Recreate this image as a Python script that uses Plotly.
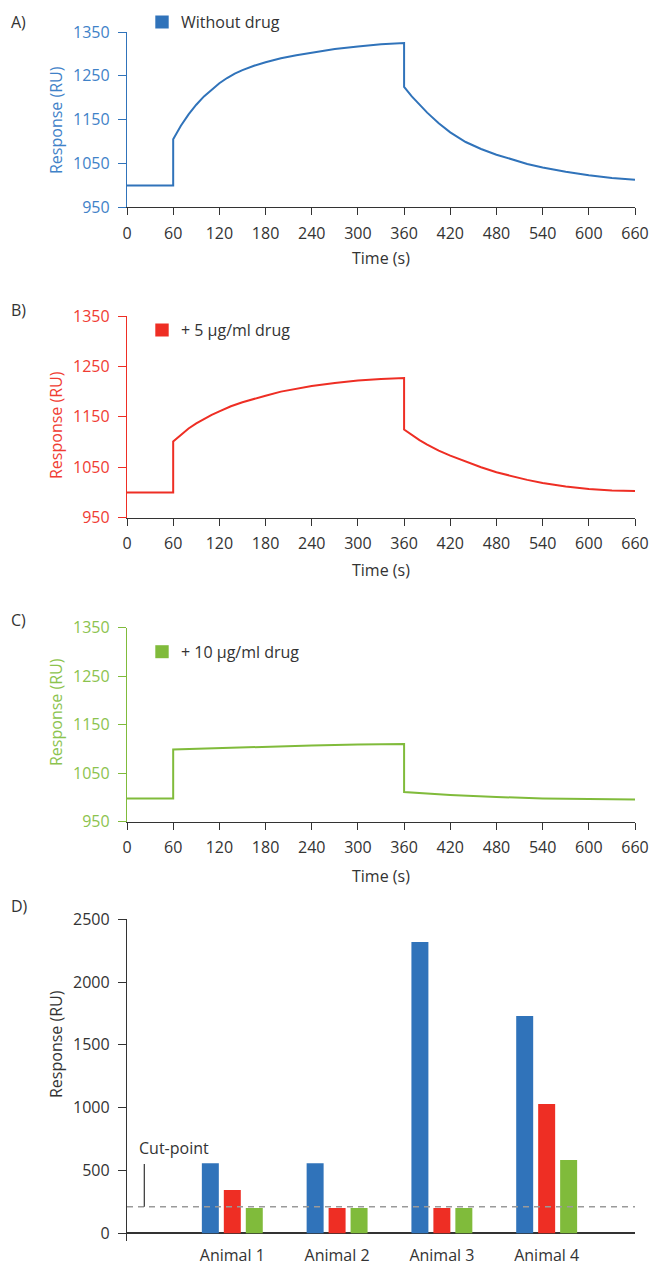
import plotly.graph_objects as go

W, H = 654, 1266

# ---------------- data ----------------
time_a = [0, 60, 60, 70, 80, 90, 100, 110, 120, 130, 140, 150, 165, 180, 200, 220, 240, 270, 300, 330, 360,
          360, 370, 380, 390, 405, 420, 440, 460, 480, 500, 520, 540, 570, 600, 630, 660]
resp_a = [1000, 1000, 1105, 1136, 1162, 1184, 1203, 1219, 1233, 1245, 1255, 1263, 1273, 1281, 1290, 1297, 1303, 1311, 1317, 1322, 1325,
          1225, 1203, 1184, 1166, 1142, 1121, 1099, 1083, 1070, 1059, 1049, 1041, 1031, 1023, 1017, 1013]

time_b = [0, 60, 60, 70, 80, 90, 100, 110, 120, 135, 150, 165, 180, 200, 220, 240, 270, 300, 330, 360,
          360, 370, 380, 390, 405, 420, 440, 460, 480, 500, 520, 540, 570, 600, 630, 660]
resp_b = [1000, 1000, 1101, 1115, 1127, 1137, 1146, 1154, 1161, 1171, 1179, 1186, 1192, 1200, 1206, 1211, 1217, 1222, 1225, 1227,
          1125, 1114, 1104, 1095, 1083, 1073, 1061, 1050, 1040, 1032, 1025, 1019, 1012, 1007, 1004, 1003]

time_c = [0, 60, 60, 120, 180, 240, 300, 360, 360, 390, 420, 480, 540, 600, 660]
resp_c = [998, 998, 1099, 1102, 1104, 1107, 1109, 1110, 1011, 1008, 1005, 1001, 998, 997, 996]

time_ticks = [0, 60, 120, 180, 240, 300, 360, 420, 480, 540, 600, 660]
resp_ticks = [950, 1050, 1150, 1250, 1350]

animals = ["Animal 1", "Animal 2", "Animal 3", "Animal 4"]
bar_without = [557, 557, 2319, 1730]
bar_5 = [345, 201, 201, 1030]
bar_10 = [201, 201, 201, 584]
bar_ticks = [0, 500, 1000, 1500, 2000, 2500]
cut_point = 212

series_names = ["Without drug", "+ 5 µg/ml drug", "+ 10 µg/ml drug"]

# ---------------- style ----------------
BLUE, RED, GREEN = "#3073BA", "#EE2E24", "#80BB3B"
BLUE_T, RED_T, GREEN_T = "#3F82C8", "#F03C33", "#8CC34E"
DARK = "#333333"
FONT = "Open Sans"


def px_x(p):
    return p / W


def px_y(p):
    return 1 - p / H


fig = go.Figure()

line_data = [(time_a, resp_a, BLUE, "x", "y"),
             (time_b, resp_b, RED, "x2", "y2"),
             (time_c, resp_c, GREEN, "x3", "y3")]
for (t, r, c, xa, ya), nm in zip(line_data, series_names):
    fig.add_trace(go.Scatter(x=t, y=r, mode="lines", line=dict(color=c, width=2),
                             name=nm, xaxis=xa, yaxis=ya, showlegend=False))

for vals, c, nm in zip([bar_without, bar_5, bar_10], [BLUE, RED, GREEN], series_names):
    fig.add_trace(go.Bar(x=animals, y=vals, marker=dict(color=c, line=dict(width=0)),
                         name=nm, xaxis="x4", yaxis="y4", showlegend=False))

xdom = [px_x(127), px_x(635)]
panels = [  # (top px, bottom px, color, tick color)
    (32, 207.3, BLUE, BLUE_T),
    (316, 517.7, RED, RED_T),
    (627.7, 821.7, GREEN, GREEN_T),
]

layout = dict(
    width=W, height=H, margin=dict(l=0, r=0, t=0, b=0, autoexpand=False),
    paper_bgcolor="white", plot_bgcolor="white",
    font=dict(family=FONT, size=16, color=DARK),
    barmode="group", bargap=0.371, bargroupgap=0.227,
    showlegend=False,
)

for i, (top, bot, col, tcol) in enumerate(panels):
    sfx = "" if i == 0 else str(i + 1)
    layout["xaxis" + sfx] = dict(
        domain=xdom, anchor="y" + sfx, range=[0, 660], tickvals=time_ticks,
        showline=True, linecolor=DARK, linewidth=1.3, ticks="outside", ticklen=7,
        tickcolor=DARK, tickwidth=1.3, showgrid=False, zeroline=False, automargin=False,
        tickfont=dict(size=16, color=DARK), ticklabelstandoff=4,
    )
    layout["yaxis" + sfx] = dict(
        domain=[px_y(bot), px_y(top)], anchor="x" + sfx, range=[950, 1350],
        tickvals=resp_ticks, showline=True, linecolor=col, linewidth=1.3,
        ticks="outside", ticklen=8, tickcolor=col, tickwidth=1.3, automargin=False,
        showgrid=False, zeroline=False, tickfont=dict(size=16, color=tcol),
        ticklabelstandoff=5,
    )

layout["xaxis4"] = dict(
    domain=xdom, anchor="y4", range=[-1.005, 3.843], type="category",
    showline=False, ticks="", showgrid=False, zeroline=False, automargin=False,
    tickfont=dict(size=16, color=DARK), ticklabelstandoff=3,
)
layout["yaxis4"] = dict(
    domain=[px_y(1240.8), px_y(919.3)], anchor="x4", range=[-60, 2500],
    tickvals=bar_ticks, showline=True, linecolor=DARK, linewidth=1.3,
    ticks="outside", ticklen=8, tickcolor=DARK, tickwidth=1.3, automargin=False,
    showgrid=False, zeroline=True, zerolinecolor=DARK, zerolinewidth=1.5,
    tickfont=dict(size=16, color=DARK), ticklabelstandoff=5,
)

annotations = []
shapes = []

# panel letters
for txt, yc in [("A)", 21.5), ("B)", 309.5), ("C)", 619.5), ("D)", 906)]:
    annotations.append(dict(text=txt, x=px_x(9), y=px_y(yc), xref="paper", yref="paper",
                            xanchor="left", yanchor="middle", showarrow=False,
                            font=dict(size=16, color=DARK)))

# y axis titles
for yc, col in [(120, BLUE_T), (425, RED_T), (712, GREEN_T), (1044, DARK)]:
    annotations.append(dict(text="Response (RU)", x=px_x(56), y=px_y(yc), xref="paper",
                            yref="paper", xanchor="center", yanchor="middle", textangle=-90,
                            showarrow=False, font=dict(size=16, color=col)))

# x axis titles
for yc in [258, 570, 876]:
    annotations.append(dict(text="Time (s)", x=px_x(381), y=px_y(yc), xref="paper",
                            yref="paper", xanchor="center", yanchor="middle",
                            showarrow=False, font=dict(size=16, color=DARK)))

# legends
for nm, col, yc in zip(series_names, [BLUE, RED, GREEN], [22, 330, 651.7]):
    shapes.append(dict(type="rect", xref="paper", yref="paper",
                       x0=px_x(155.3), x1=px_x(168.7), y0=px_y(yc - 6.5), y1=px_y(yc + 6.5),
                       fillcolor=col, line=dict(width=0)))
    annotations.append(dict(text=nm, x=px_x(179), y=px_y(yc), xref="paper", yref="paper",
                            xanchor="left", yanchor="middle", showarrow=False,
                            font=dict(size=16, color=DARK)))

# cut-point line
shapes.append(dict(type="line", xref="x4 domain", yref="y4", x0=0, x1=1,
                   y0=cut_point, y1=cut_point, line=dict(color="#9A9A9A", width=1.5, dash="6px,5px")))
shapes.append(dict(type="line", xref="paper", yref="y4", x0=px_x(144.3), x1=px_x(144.3),
                   y0=cut_point, y1=552, line=dict(color=DARK, width=1.2)))
annotations.append(dict(text="Cut-point", x=px_x(137), y=px_y(1148), xref="paper", yref="paper",
                        xanchor="left", yanchor="middle", showarrow=False,
                        font=dict(size=16, color=DARK)))

layout["annotations"] = annotations
layout["shapes"] = shapes
fig.update_layout(**layout)

fig.write_html("out.html")
